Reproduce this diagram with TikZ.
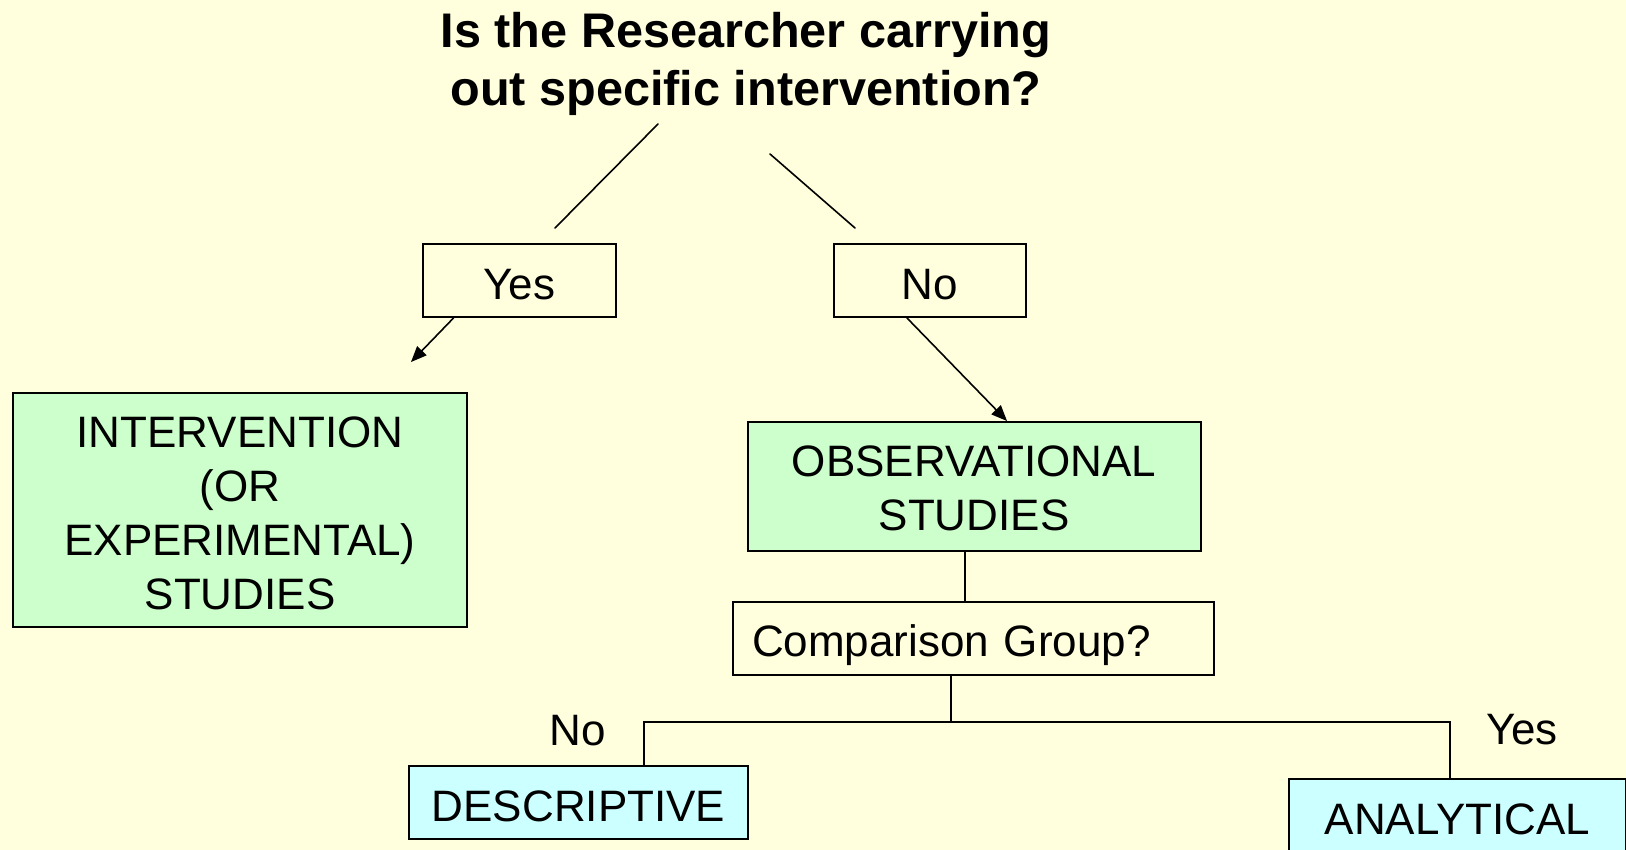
\documentclass[tikz,border=0pt]{standalone}
\usepackage{fontspec}
\setmainfont{Liberation Sans}
\usepackage{xcolor}
\usetikzlibrary{arrows}
\definecolor{paper}{RGB}{255,255,221}
\definecolor{studygreen}{RGB}{204,255,204}
\definecolor{kindcyan}{RGB}{204,255,255}

\begin{document}
\begin{tikzpicture}[line cap=round,line join=round,>=triangle 45,x=0.5pt,y=-0.5pt,
  box/.style={draw,line width=1pt,line join=miter,inner sep=0pt,align=center,text depth=0pt,text height=18.5pt,font=\fontsize{22}{27}\selectfont},
  tag/.style={font=\fontsize{22}{27}\selectfont},
  link/.style={line width=0.8pt}]
\clip (0,0) rectangle (1626,850);
\fill[paper] (0,0) rectangle (1626,850);
\node[font=\bfseries\fontsize{24.3}{29}\selectfont,align=center] (ask) at (746,64) {Is the Researcher carrying\\out specific intervention?};
\node[box,minimum width=96.5pt,minimum height=36.5pt] (yes) at (519.5,280.5) {Yes};
\node[box,minimum width=96pt,minimum height=36.5pt] (no) at (930,280.5) {No};
\node[box,fill=studygreen,minimum width=227pt,minimum height=117pt,text height=99pt] (interv) at (240,510) {INTERVENTION\\(OR\\EXPERIMENTAL)\\STUDIES};
\node[box,fill=studygreen,minimum width=226.5pt,minimum height=64.5pt,text height=43.5pt] (obs) at (974,486.5) {OBSERVATIONAL\\STUDIES};
\node[box,align=left,text width=221.5pt,inner xsep=9.5pt,minimum height=36.5pt,text height=17.5pt] (cmp) at (973.5,638.5) {Comparison Group?};
\node[box,fill=kindcyan,minimum width=169.5pt,minimum height=36.5pt,text height=19pt] (desc) at (578.5,802.5) {DESCRIPTIVE};
\node[box,fill=kindcyan,minimum width=168.5pt,minimum height=36.5pt,text height=19pt] (ana) at (1457.5,815.5) {ANALYTICAL};
\node[tag] (notag) at (578,731) {No};
\node[tag] (yestag) at (1522,730) {Yes};
\coordinate (lefttop) at (658,124);
\coordinate (leftend) at (555,228);
\coordinate (righttop) at (770,154);
\coordinate (rightend) at (855,228);
\coordinate (yesend) at (411,362);
\coordinate (lft) at (644,722);
\coordinate (mid) at (951,722);
\coordinate (rgt) at (1450,722);
\draw[link] (lefttop) -- (leftend);
\draw[link] (righttop) -- (rightend);
\draw[link,->] ([xshift=-33pt]yes.south) -- (yesend);
\draw[link,->] ([xshift=-11.5pt]no.south) -- ([xshift=16.5pt]obs.north);
\draw[link] ([xshift=-4.5pt]obs.south) -- ([xshift=-4.5pt]obs.south |- cmp.north);
\draw[link] (mid |- cmp.south) -- (mid);
\draw[link,line join=miter] (lft |- desc.north) -- (lft) -- (rgt) -- (rgt |- ana.north);
\end{tikzpicture}
\end{document}
